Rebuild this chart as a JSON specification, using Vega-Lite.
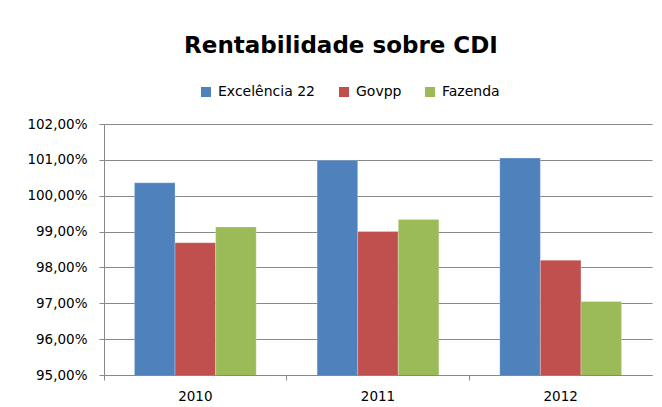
{
  "$schema": "https://vega.github.io/schema/vega-lite/v6.json",
  "width": 548,
  "height": 251,
  "autosize": "none",
  "padding": {"left": 104, "top": 124, "right": 10, "bottom": 32},
  "background": "white",
  "title": {
    "text": "Rentabilidade sobre CDI",
    "font": "DejaVu Sans",
    "fontSize": 23,
    "fontWeight": "bold",
    "color": "black",
    "anchor": "middle",
    "dx": -37,
    "offset": 27
  },
  "data": {
    "values": [
      {"ano": "2010", "serie": "Excelência 22", "valor": 100.36},
      {"ano": "2010", "serie": "Govpp", "valor": 98.69},
      {"ano": "2010", "serie": "Fazenda", "valor": 99.13},
      {"ano": "2011", "serie": "Excelência 22", "valor": 100.99},
      {"ano": "2011", "serie": "Govpp", "valor": 99.0},
      {"ano": "2011", "serie": "Fazenda", "valor": 99.34},
      {"ano": "2012", "serie": "Excelência 22", "valor": 101.05},
      {"ano": "2012", "serie": "Govpp", "valor": 98.2},
      {"ano": "2012", "serie": "Fazenda", "valor": 97.05}
    ]
  },
  "mark": {"type": "bar", "clip": true, "stroke": "white", "strokeWidth": 0.5, "strokeOpacity": 0.5},
  "encoding": {
    "x": {
      "field": "ano",
      "type": "nominal",
      "scale": {"paddingInner": 0, "paddingOuter": 0},
      "axis": {
        "title": null,
        "labelAngle": 0,
        "bandPosition": 0,
        "labelFont": "DejaVu Sans",
        "labelFontSize": 13.5,
        "labelColor": "black",
        "labelPadding": 9,
        "domainColor": "#888888",
        "tickColor": "#888888",
        "tickSize": 5,
        "grid": false
      }
    },
    "xOffset": {
      "field": "serie",
      "type": "nominal",
      "sort": ["Excelência 22", "Govpp", "Fazenda"],
      "scale": {"paddingInner": 0, "paddingOuter": 0.75}
    },
    "y": {
      "field": "valor",
      "type": "quantitative",
      "scale": {"domain": [95, 102], "zero": false, "nice": false},
      "axis": {
        "title": null,
        "values": [95, 96, 97, 98, 99, 100, 101, 102],
        "labelExpr": "replace(format(datum.value, '.2f'), '.', ',') + '%'",
        "labelFont": "DejaVu Sans",
        "labelFontSize": 13.5,
        "labelColor": "black",
        "labelPadding": 12,
        "domainColor": "#888888",
        "tickColor": "#888888",
        "tickSize": 5,
        "grid": true,
        "gridColor": "#888888",
        "gridWidth": 1
      }
    },
    "color": {
      "field": "serie",
      "type": "nominal",
      "sort": ["Excelência 22", "Govpp", "Fazenda"],
      "scale": {
        "domain": ["Excelência 22", "Govpp", "Fazenda"],
        "range": ["#4F81BD", "#C0504D", "#9BBB59"]
      },
      "legend": {
        "title": null,
        "orient": "none",
        "direction": "horizontal",
        "legendX": 95,
        "legendY": -39,
        "symbolType": "square",
        "symbolSize": 100,
        "symbolStrokeWidth": 0,
        "labelFont": "DejaVu Sans",
        "labelFontSize": 14,
        "labelColor": "black",
        "columnPadding": 21,
        "labelOffset": 5
      }
    }
  },
  "config": {
    "view": {"stroke": null}
  }
}
